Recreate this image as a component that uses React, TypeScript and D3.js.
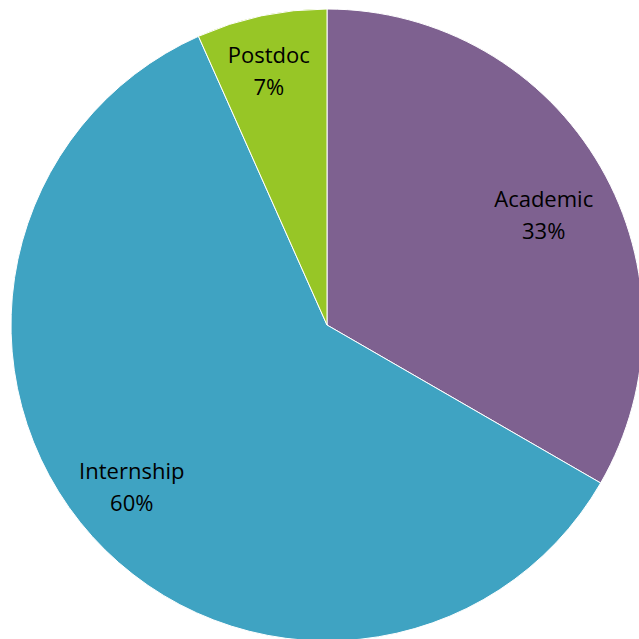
import { useRef, useEffect } from "react";
import * as d3 from "d3";

const categories = ["Academic", "Internship", "Postdoc"];
const counts = [5, 9, 1];
const colors = ["#7e6190", "#3fa3c2", "#97c626"];

function PieChart() {
  const svgRef = useRef<SVGSVGElement>(null);

  useEffect(() => {
    drawChart();
  }, []);

  function drawChart() {
    if (!svgRef.current) return;
    const svg = d3.select(svgRef.current);
    svg.selectAll("*").remove();

    const cx = 327;
    const cy = 325;
    const radius = 316;
    const total = d3.sum(counts);

    const data = categories.map((c, i) => ({ name: c, value: counts[i], color: colors[i] }));

    const pie = d3
      .pie<{ name: string; value: number; color: string }>()
      .sort(null)
      .value((d) => d.value);

    const arc = d3.arc<any>().innerRadius(0).outerRadius(radius);
    const labelArc = d3.arc<any>().innerRadius(256).outerRadius(256);

    const g = svg.append("g").attr("transform", `translate(${cx}, ${cy})`);

    const arcs = pie(data);

    g.selectAll("path")
      .data(arcs)
      .enter()
      .append("path")
      .attr("d", arc)
      .attr("fill", (d) => d.data.color)
      .attr("stroke", "#ffffff")
      .attr("stroke-width", 1);

    const labels = g
      .selectAll("text")
      .data(arcs)
      .enter()
      .append("text")
      .attr("transform", (d) => {
        const [x, y] = labelArc.centroid(d);
        // Excel's best fit: right-side label sits lower, lower-half label a bit higher
        const shift = y < 0 && x > 0 ? 18 : y > 0 ? -9 : -4;
        return `translate(${x - 5}, ${y + shift})`;
      })
      .attr("text-anchor", "middle")
      .attr("font-family", "'Open Sans', sans-serif")
      .attr("font-size", "22px")
      .attr("fill", "#000");

    labels
      .append("tspan")
      .attr("x", 0)
      .attr("y", -8)
      .text((d) => d.data.name);

    labels
      .append("tspan")
      .attr("x", 0)
      .attr("y", 24)
      .text((d) => `${Math.round((d.data.value / total) * 100)}%`);
  }

  return (
    <svg
      ref={svgRef}
      width={639}
      height={639}
      style={{ position: "absolute", top: 0, left: 0, background: "#fff" }}
    />
  );
}

export default function App() {
  return <PieChart />;
}
